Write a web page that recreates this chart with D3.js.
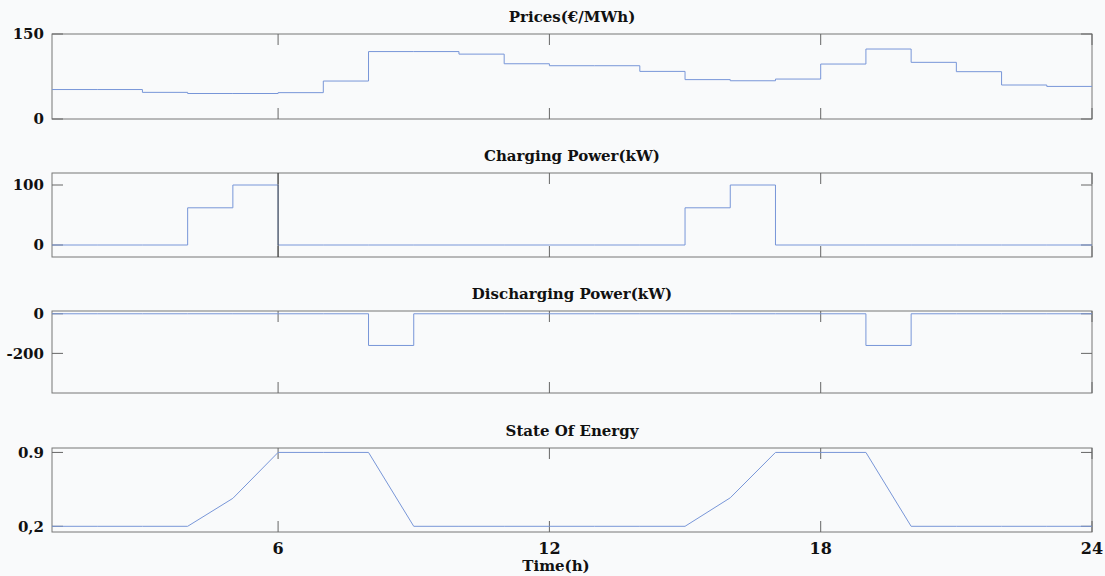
<!DOCTYPE html>
<html>
<head>
<meta charset="utf-8">
<script src="https://cdn.jsdelivr.net/npm/d3@7"></script>
<style>
  body { margin: 0; background: #f9fafb; }
  text { font-family: "DejaVu Serif", "Liberation Serif", serif; font-weight: bold; fill: #111; }
</style>
</head>
<body>
<div id="chart"></div>
<script>
// hours 1..24
const hours = d3.range(1, 25);

// prices (€/MWh), one value per hour (stairs)
const prices = [52, 52, 47, 45, 45, 46.5, 67, 119, 119, 114.5, 97.5, 94, 94, 84, 69.5, 67.5, 70.5, 97, 123.5, 100, 83.5, 60, 57.5, 57.5];
// charging power (kW)
const charging = [0, 0, 0, 62, 100, 0, 0, 0, 0, 0, 0, 0, 0, 0, 62, 100, 0, 0, 0, 0, 0, 0, 0, 0];
// discharging power (kW)
const discharging = [0, 0, 0, 0, 0, 0, 0, -160, 0, 0, 0, 0, 0, 0, 0, 0, 0, 0, -160, 0, 0, 0, 0, 0];
// state of energy
const soe = [0.2, 0.2, 0.2, 0.2, 0.465, 0.9, 0.9, 0.9, 0.2, 0.2, 0.2, 0.2, 0.2, 0.2, 0.2, 0.47, 0.9, 0.9, 0.9, 0.2, 0.2, 0.2, 0.2, 0.2];

const xTicks = [6, 12, 18, 24];
const titles = ['Prices(€/MWh)', 'Charging Power(kW)', 'Discharging Power(kW)', 'State Of Energy'];
const priceTicks = [0, 150], priceLabels = ['0', '150'];
const chargeTicks = [0, 100], chargeLabels = ['0', '100'];
const dischargeTicks = [-200, 0], dischargeLabels = ['-200', '0'];
const soeTicks = [0.2, 0.9], soeLabels = ['0,2', '0.9'];

const width = 1105, height = 576;
const left = 52, right = 1092;

const svg = d3.select('#chart').append('svg')
  .attr('width', width)
  .attr('height', height);

const x = d3.scaleLinear().domain([1, 24]).range([left, right]);

const panels = [
  { title: titles[0], data: prices, domain: [0, 150], top: 34, bottom: 119, ticks: priceTicks, labels: priceLabels, step: true },
  { title: titles[1], data: charging, domain: [-20, 120], top: 173, bottom: 257, ticks: chargeTicks, labels: chargeLabels, step: true },
  { title: titles[2], data: discharging, domain: [-400, 14], top: 311, bottom: 393, ticks: dischargeTicks, labels: dischargeLabels, step: true },
  { title: titles[3], data: soe, domain: [0.146, 0.942], top: 448, bottom: 532, ticks: soeTicks, labels: soeLabels, step: false }
];

const tickLen = 11;

panels.forEach((p, idx) => {
  const y = d3.scaleLinear().domain(p.domain).range([p.bottom, p.top]);
  const g = svg.append('g');

  // box
  g.append('rect')
    .attr('x', left).attr('y', p.top)
    .attr('width', right - left).attr('height', p.bottom - p.top)
    .attr('fill', 'none').attr('stroke', '#777').attr('stroke-width', 1);

  // x ticks (inside, top and bottom)
  xTicks.forEach(t => {
    g.append('line').attr('x1', x(t)).attr('x2', x(t))
      .attr('y1', p.top).attr('y2', p.top + tickLen)
      .attr('stroke', '#666');
    g.append('line').attr('x1', x(t)).attr('x2', x(t))
      .attr('y1', p.bottom).attr('y2', p.bottom - tickLen)
      .attr('stroke', '#666');
  });

  // y ticks (inside, left and right) + labels
  p.ticks.forEach((t, i) => {
    g.append('line').attr('x1', left).attr('x2', left + tickLen)
      .attr('y1', y(t)).attr('y2', y(t)).attr('stroke', '#666');
    g.append('line').attr('x1', right).attr('x2', right - tickLen)
      .attr('y1', y(t)).attr('y2', y(t)).attr('stroke', '#666');
    g.append('text')
      .attr('x', left - 8).attr('y', y(t))
      .attr('dy', '0.35em')
      .attr('text-anchor', 'end')
      .attr('font-size', 15)
      .text(p.labels[i]);
  });

  // title
  g.append('text')
    .attr('x', (left + right) / 2).attr('y', p.top - 12)
    .attr('text-anchor', 'middle')
    .attr('font-size', 15)
    .text(p.title);

  // series
  const line = d3.line()
    .x((d, i) => x(hours[i]))
    .y(d => y(d))
    .curve(p.step ? d3.curveStepAfter : d3.curveLinear);

  g.append('path')
    .datum(p.data)
    .attr('d', line)
    .attr('fill', 'none')
    .attr('stroke', '#7896d8')
    .attr('stroke-width', 1);

  // dark line across the charging panel at hour 6
  if (idx === 1) {
    g.append('line').attr('x1', x(6)).attr('x2', x(6))
      .attr('y1', p.top).attr('y2', p.bottom)
      .attr('stroke', '#444');
  }

  // x labels on the last panel
  if (idx === panels.length - 1) {
    xTicks.forEach(t => {
      g.append('text')
        .attr('x', x(t)).attr('y', p.bottom + 22)
        .attr('text-anchor', 'middle')
        .attr('font-size', 16)
        .text(t);
    });
    g.append('text')
      .attr('x', (left + right) / 2 - 16).attr('y', p.bottom + 39)
      .attr('text-anchor', 'middle')
      .attr('font-size', 15)
      .text('Time(h)');
  }
});
</script>
</body>
</html>
